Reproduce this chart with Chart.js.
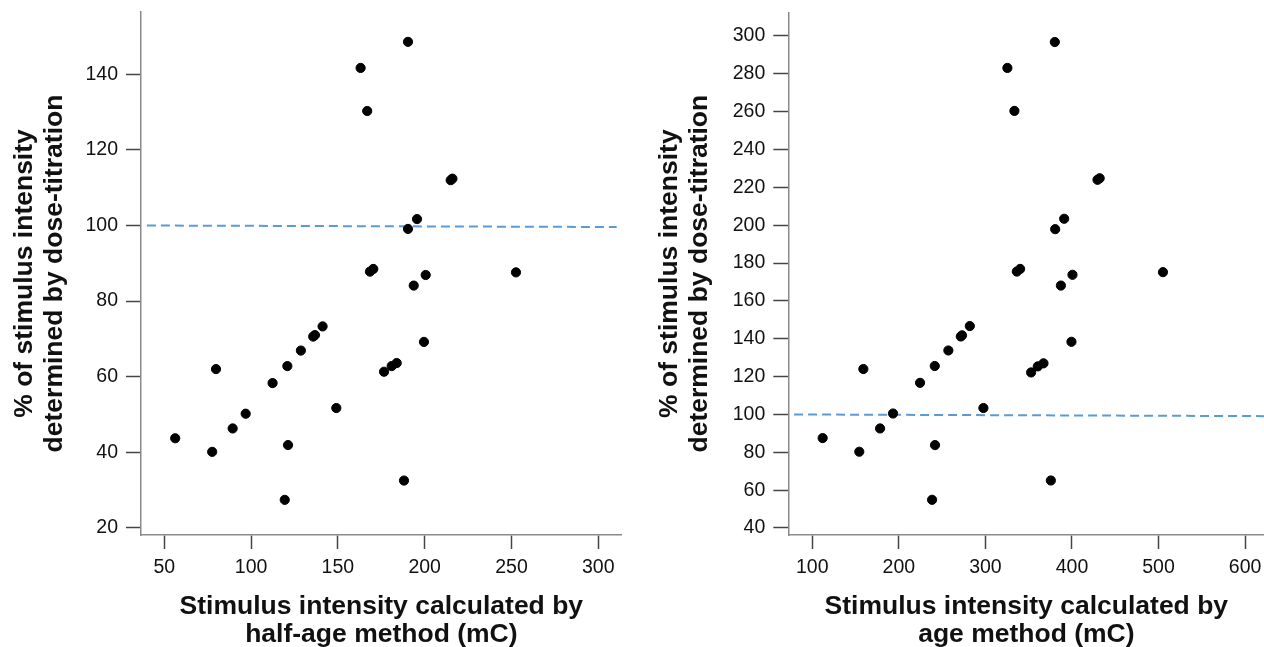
<!DOCTYPE html>
<html>
<head>
<meta charset="utf-8">
<script src="https://cdn.jsdelivr.net/npm/chart.js@4/dist/chart.umd.min.js"></script>
<style>
    html, body { margin: 0; background: #fff; overflow: hidden; }
    #wrap { position: relative; width: 1264px; height: 647px; overflow: hidden; }
    canvas { position: absolute; top: 0; }
</style>
</head>
<body>
<div id="wrap">
    <canvas id="leftChart" width="632" height="647" style="left:0"></canvas>
    <!-- a few px wider than its slot: chart.js keeps room for the point radius on the right -->
    <canvas id="rightChart" width="638" height="647" style="left:632px"></canvas>
</div>
<script>
// half-age method (left panel)
const halfAgeX = [190.4, 163.1, 166.9, 215.0, 216.0, 195.6, 190.4, 168.5, 170.4, 200.6, 193.7, 252.6, 141.2, 135.8, 136.8, 128.7,
    199.6, 120.9, 79.8, 112.4, 176.6, 181.0, 183.9, 149.1, 96.9, 89.4, 56.3, 77.6, 121.3, 188.1, 119.4];
const halfAgeY = [148.6, 141.7, 130.3, 112.0, 112.4, 101.7, 99.1, 87.8, 88.5, 86.9, 84.1, 87.6, 73.3, 70.6, 71.0, 66.9,
    69.2, 62.8, 62.0, 58.3, 61.3, 62.8, 63.6, 51.7, 50.2, 46.3, 43.7, 40.1, 41.9, 32.5, 27.4];

// age method (right panel)
const ageX = [380.2, 325.4, 333.5, 429.5, 432.0, 391.0, 380.6, 336.3, 340.1, 400.6, 387.2, 505.1, 282.0, 271.6, 273.0, 257.2,
    399.4, 241.5, 159.0, 224.5, 352.8, 360.5, 367.1, 297.7, 193.3, 178.3, 112.0, 154.3, 241.8, 375.6, 238.4];
const ageY = [296.8, 283.1, 260.4, 224.0, 224.8, 203.4, 197.9, 175.5, 176.9, 173.8, 168.1, 175.2, 146.7, 141.2, 141.8, 133.8,
    138.4, 125.6, 124.0, 116.7, 122.2, 125.4, 127.0, 103.4, 100.5, 92.6, 87.5, 80.3, 83.8, 65.1, 54.9];

// 100% reference line (start / end)
const leftRefX = [40, 310.6];
const leftRefY = [100, 99.6];
const rightRefX = [79, 622];
const rightRefY = [100, 99.1];

const leftXTicks = [50, 100, 150, 200, 250, 300];
const leftYTicks = [20, 40, 60, 80, 100, 120, 140];
const rightXTicks = [100, 200, 300, 400, 500, 600];
const rightYTicks = [40, 60, 80, 100, 120, 140, 160, 180, 200, 220, 240, 260, 280, 300];

const yTitle = ['% of stimulus intensity', 'determined by dose-titration'];

function toPoints(xs, ys) {
    return xs.map((x, i) => ({ x: x, y: ys[i] }));
}

function makeChart(id, opts) {
    const tickFont = { family: 'Liberation Sans, Arial, sans-serif', size: 19.5 };
    const titleFont = { family: 'Liberation Sans, Arial, sans-serif', size: 26.5, weight: 'bold' };
    return new Chart(document.getElementById(id), {
        type: 'scatter',
        data: {
            datasets: [{
                data: toPoints(opts.xs, opts.ys),
                backgroundColor: '#000',
                borderColor: '#000',
                borderWidth: 1,
                pointRadius: 4.6,
            }, {
                type: 'line',
                data: toPoints(opts.refX, opts.refY),
                borderColor: '#5b9bd5',
                borderWidth: 2,
                borderDash: [9, 5],
                pointRadius: 0,
                fill: false,
            }],
        },
        options: {
            responsive: false,
            animation: false,
            layout: { padding: opts.padding },
            plugins: { legend: { display: false }, tooltip: { enabled: false } },
            scales: {
                x: {
                    type: 'linear',
                    min: opts.xMin,
                    max: opts.xMax,
                    afterBuildTicks: (s) => { s.ticks = opts.xTicks.map(v => ({ value: v })); },
                    afterFit: (s) => {
                        s.height = 112;
                        s.paddingLeft = 0;
                        s.paddingRight = 0;
                    },
                    grid: { drawOnChartArea: false, tickLength: 14, tickColor: '#444', tickWidth: 1.5 },
                    border: { color: '#8a8a8a', width: 1.5 },
                    ticks: { color: '#111', font: tickFont, padding: 7, maxRotation: 0 },
                    title: {
                        display: true,
                        text: opts.xTitle,
                        color: '#111',
                        font: Object.assign({ lineHeight: 28 / 26.5 }, titleFont),
                        padding: { top: 0, bottom: -2 },
                    },
                },
                y: {
                    min: opts.yMin,
                    max: opts.yMax,
                    afterBuildTicks: (s) => { s.ticks = opts.yTicks.map(v => ({ value: v })); },
                    afterFit: (s) => {
                        s.width = opts.yWidth;
                        s.paddingTop = 0;
                        s.paddingBottom = 0;
                    },
                    grid: { drawOnChartArea: false, tickLength: 15, tickColor: '#444', tickWidth: 1.5 },
                    border: { color: '#8a8a8a', width: 1.5 },
                    ticks: { color: '#111', font: tickFont, padding: 8 },
                    title: {
                        display: true,
                        text: yTitle,
                        color: '#111',
                        font: Object.assign({ lineHeight: 30 / 26.5 }, titleFont),
                        padding: { top: opts.yTitlePad, bottom: 0 },
                    },
                },
            },
        },
    });
}

makeChart('leftChart', {
    xs: halfAgeX, ys: halfAgeY, refX: leftRefX, refY: leftRefY,
    xMin: 36.6, xMax: 313.5, yMin: 18.1, yMax: 156.5,
    xTicks: leftXTicks, yTicks: leftYTicks,
    xTitle: ['Stimulus intensity calculated by', 'half-age method (mC)'],
    yWidth: 141, yTitlePad: 10,
    padding: { top: 12, right: 10.3, bottom: 0, left: 0 },
});

makeChart('rightChart', {
    xs: ageX, ys: ageY, refX: rightRefX, refY: rightRefY,
    xMin: 72.3, xMax: 622.3, yMin: 36.3, yMax: 312.5,
    xTicks: rightXTicks, yTicks: rightYTicks,
    xTitle: ['Stimulus intensity calculated by', 'age method (mC)'],
    yWidth: 156.3, yTitlePad: 23,
    padding: { top: 12.3, right: 0, bottom: 0, left: 0 },
});
</script>
</body>
</html>
